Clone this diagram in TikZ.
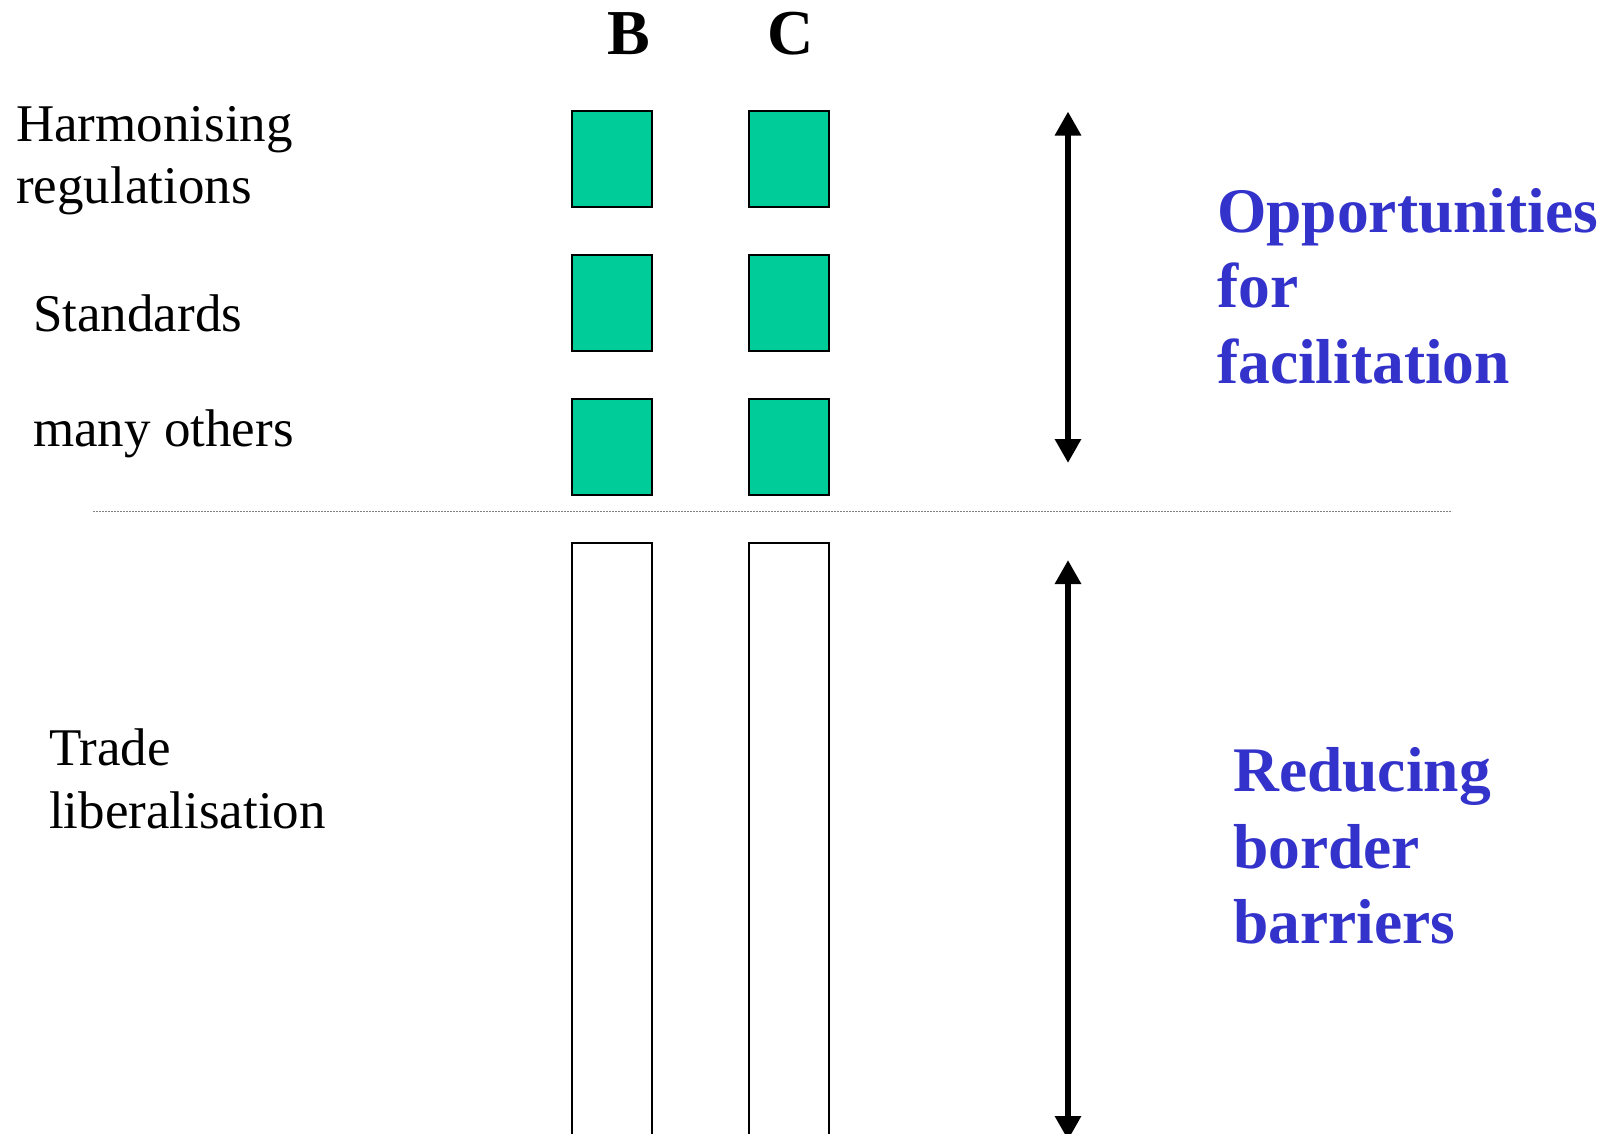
\documentclass[tikz,border=0pt]{standalone}
\usepackage{fontspec}
\setmainfont{Liberation Serif}
\usetikzlibrary{arrows.meta}
\definecolor{boxgreen}{HTML}{00CC99}
\definecolor{textblue}{HTML}{3333CC}
\tikzset{
  greenbox/.style={draw=black, line width=2pt, fill=boxgreen},
  whitebox/.style={draw=black, line width=2pt, fill=white},
  lefttext/.style={anchor=base west, inner sep=0pt, font=\fontsize{53}{64}\selectfont},
  bluetext/.style={anchor=base west, inner sep=0pt, text=textblue, font=\bfseries\fontsize{63.5}{76}\selectfont},
  headtext/.style={anchor=base, inner sep=0pt, font=\bfseries\fontsize{64}{76}\selectfont},
  bigarrow/.style={line width=6.5pt, {Triangle[length=24pt,width=25pt]}-{Triangle[length=24pt,width=25pt]}},
  divider/.style={draw=gray, line width=1pt, dash pattern=on 2pt off 1pt}
}
\begin{document}
\begin{tikzpicture}[x=1pt,y=-1pt]
\useasboundingbox[fill=white] (0,0) rectangle (1614,1133);
% column headings
\node[headtext] (hB) at (629,54) {B};
\node[headtext] (hC) at (791,54) {C};
% green boxes
\node[greenbox, minimum width=80pt, minimum height=96pt, inner sep=0pt] (b1) at (612,159) {};
\node[greenbox, minimum width=80pt, minimum height=96pt, inner sep=0pt] (c1) at (788.5,159) {};
\node[greenbox, minimum width=80pt, minimum height=96pt, inner sep=0pt] (b2) at (612,303) {};
\node[greenbox, minimum width=80pt, minimum height=96pt, inner sep=0pt] (c2) at (788.5,303) {};
\node[greenbox, minimum width=80pt, minimum height=96pt, inner sep=0pt] (b3) at (612,447) {};
\node[greenbox, minimum width=80pt, minimum height=96pt, inner sep=0pt] (c3) at (788.5,447) {};
% white tall boxes
\draw[whitebox] (572,543) rectangle (652,1160);
\draw[whitebox] (748.5,543) rectangle (828.5,1160);
% divider
\coordinate (dl) at (93,511);
\coordinate (dr) at (1452,511);
\draw[divider] (dl) -- (dr);
% arrows
\coordinate (a1t) at (1068,111.5);
\coordinate (a1b) at (1068,463);
\draw[bigarrow] (a1b) -- (a1t);
\coordinate (a2t) at (1068,560);
\coordinate (a2b) at (1068,1140);
\draw[bigarrow] (a2b) -- (a2t);
% left labels
\node[lefttext] (l1) at (16,141) {Harmonising};
\node[lefttext] (l2) at (16,203) {regulations};
\node[lefttext] (l3) at (33,331) {Standards};
\node[lefttext] (l4) at (33,446) {many others};
\node[lefttext] (l5) at (49,765) {Trade};
\node[lefttext] (l6) at (49,828) {liberalisation};
% right labels
\node[bluetext] (r1) at (1217,232) {Opportunities};
\node[bluetext] (r2) at (1217,307) {for};
\node[bluetext] (r3) at (1217,383) {facilitation};
\node[bluetext] (r4) at (1233,791) {Reducing};
\node[bluetext] (r5) at (1233,868) {border};
\node[bluetext] (r6) at (1233,943) {barriers};
\end{tikzpicture}
\end{document}
